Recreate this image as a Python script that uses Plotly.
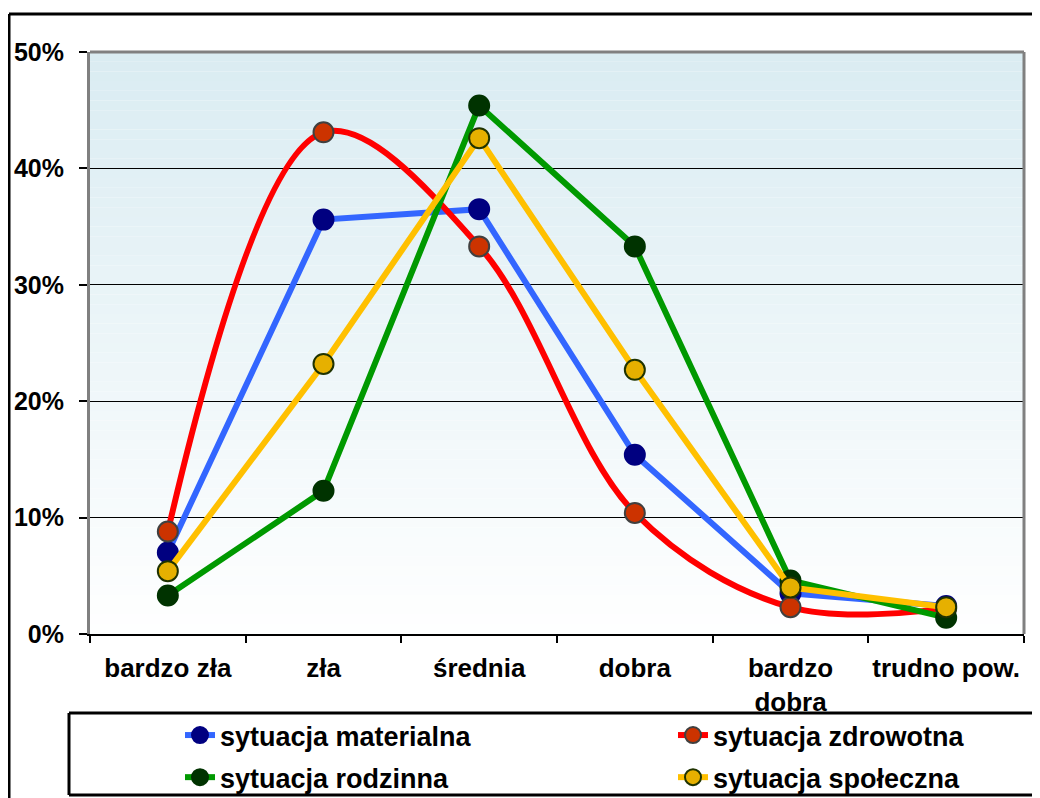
import plotly.graph_objects as go

categories = ["bardzo zła", "zła", "średnia", "dobra", "bardzo<br>dobra", "trudno pow."]
materialna = [7.0, 35.6, 36.5, 15.4, 3.5, 2.4]
zdrowotna = [8.8, 43.1, 33.3, 10.4, 2.3, 2.2]
rodzinna = [3.3, 12.3, 45.4, 33.3, 4.6, 1.4]
spoleczna = [5.4, 23.2, 42.6, 22.7, 4.0, 2.3]
y_ticks = [0, 10, 20, 30, 40, 50]

OFF = 8  # page offset of the figure (body margin)
W, H = 1032, 790
# plot area in page pixels: x 90..1024, y 52..634
L = 90 - OFF
T = 52 - OFF
R = W - (1024 - OFF)
B = H - (634 - OFF)
PW, PH = W - L - R, H - T - B

def px_x(p):
    return (p - OFF - L) / PW

def px_y(p):
    return (H - B - (p - OFF)) / PH

series = [
    ("sytuacja materialna", materialna, "#3366FF", "#000080", "#000080", "linear", "legend"),
    ("sytuacja zdrowotna", zdrowotna, "#FF0000", "#CC3300", "#404040", "spline", "legend2"),
    ("sytuacja rodzinna", rodzinna, "#009900", "#003300", "#003300", "linear", "legend"),
    ("sytuacja społeczna", spoleczna, "#FFC000", "#E6B000", "#1F3300", "linear", "legend2"),
]

fig = go.Figure()
for name, vals, lc, mc, oc, shape, lg in series:
    fig.add_trace(go.Scatter(
        x=categories, y=[v / 100 for v in vals], name=name, mode="lines+markers",
        line=dict(color=lc, width=6, shape=shape, smoothing=1.0),
        marker=dict(color=mc, size=20, line=dict(color=oc, width=2)),
        legend=lg, legendgroup=name,
    ))

shapes = []
# gradient background
n = 60
top = (218, 236, 242)
bot = (255, 255, 255)
for i in range(n):
    t = i / n
    c = tuple(round(top[k] + (bot[k] - top[k]) * t) for k in range(3))
    y1 = 0.5 - 0.5 * i / n
    y0 = 0.5 - 0.5 * (i + 1) / n
    shapes.append(dict(type="rect", xref="x domain", yref="y", x0=0, x1=1, y0=y0, y1=y1,
                       fillcolor="rgb(%d,%d,%d)" % c, line=dict(width=0), layer="below"))
# top and right gray border
shapes.append(dict(type="line", xref="x domain", yref="y domain", x0=0, x1=1, y0=1, y1=1,
                   line=dict(color="#808080", width=3)))
shapes.append(dict(type="line", xref="x domain", yref="y domain", x0=1, x1=1, y0=0, y1=1,
                   line=dict(color="#808080", width=3)))

def pline(x0, y0, x1, y1):
    return dict(type="line", xref="paper", yref="paper",
                x0=px_x(x0), x1=px_x(x1), y0=px_y(y0), y1=px_y(y1),
                line=dict(color="black", width=3))

# outer border (left and top visible)
shapes.append(pline(9, 14, 9, 800))
shapes.append(pline(9, 14, 1045, 14))
# legend box (left, top, bottom visible)
shapes.append(pline(69, 713, 69, 795))
shapes.append(pline(69, 713, 1045, 713))
shapes.append(pline(69, 795, 1045, 795))
fig.update_layout(shapes=shapes)

fam = "Liberation Sans, Arial, sans-serif"
lfont = dict(family=fam, color="black", size=27, weight="bold")

fig.update_layout(
    width=W, height=H,
    margin=dict(l=L, r=R, t=T, b=B, autoexpand=False),
    paper_bgcolor="white", plot_bgcolor="white",
    font=dict(family=fam, color="black"),
    legend=dict(x=px_x(180), y=px_y(711), xanchor="left", yanchor="top",
                orientation="v", traceorder="grouped", tracegroupgap=4,
                font=lfont, bgcolor="rgba(0,0,0,0)"),
    legend2=dict(x=px_x(673), y=px_y(711), xanchor="left", yanchor="top",
                 orientation="v", traceorder="grouped", tracegroupgap=4,
                 font=lfont, bgcolor="rgba(0,0,0,0)"),
    xaxis=dict(type="category", range=[-0.5, 5.5], tickson="boundaries",
               ticks="outside", ticklen=7, tickwidth=2, tickcolor="black",
               showline=True, linecolor="black", linewidth=2, showgrid=False,
               tickangle=0, ticklabelstandoff=10,
               tickfont=dict(size=26, weight="bold", family=fam, color="black")),
    yaxis=dict(range=[0, 0.5], tickvals=[v / 100 for v in y_ticks], tickformat=".0%",
               ticks="outside", ticklen=8, tickwidth=2, tickcolor="black",
               showline=True, linecolor="#808080", linewidth=3,
               showgrid=True, gridcolor="black", gridwidth=1, zeroline=False,
               ticklabelstandoff=10,
               tickfont=dict(size=25, weight="bold", family=fam, color="black")),
)

fig.write_html("out.html")
